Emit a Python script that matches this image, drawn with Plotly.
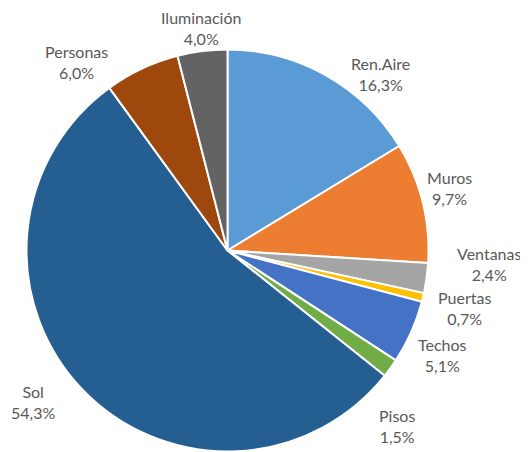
import math
import plotly.graph_objects as go

LABELS = ["Ren.Aire", "Muros", "Ventanas", "Puertas", "Techos", "Pisos",
          "Sol", "Personas", "Iluminación"]
VALUES = [16.3, 9.7, 2.4, 0.7, 5.1, 1.5, 54.3, 6.0, 4.0]
COLORS = ["#5B9BD5", "#ED7D31", "#A5A5A5", "#FFC000", "#4472C4", "#70AD47",
          "#255E91", "#9E480E", "#636363"]

# page body has an 8px margin, so the figure is a bit smaller than the window
W, H = 520, 444
# pie geometry in figure pixels (from top-left)
CX, CY, R = 219.5, 242.5, 201
LABEL_R = 235
# hand nudges (px) so labels land where Excel's "best fit" put them
NUDGE = {
    "Ren.Aire": (38, 28), "Muros": (-6, -6), "Ventanas": (29, -19),
    "Puertas": (8, 3), "Techos": (0, 9), "Pisos": (-21, 38),
    "Sol": (-25, -11), "Personas": (-51, 24), "Iluminación": (3, 11),
}

fig = go.Figure(go.Pie(
    labels=LABELS,
    values=VALUES,
    sort=False,
    direction="clockwise",
    rotation=0,
    marker=dict(colors=COLORS, line=dict(color="white", width=2)),
    textinfo="none",
    hoverinfo="label+percent",
    showlegend=False,
    domain=dict(x=[(CX - R) / W, (CX + R) / W],
                y=[1 - (CY + R) / H, 1 - (CY - R) / H]),
))

total = sum(VALUES)
cum = 0.0
for lab, val in zip(LABELS, VALUES):
    mid = (cum + val / 2) / total * 2 * math.pi
    cum += val
    dx, dy = NUDGE[lab]
    px = CX + LABEL_R * math.sin(mid) + dx
    py = CY - LABEL_R * math.cos(mid) + dy
    pct = f"{val:.1f}".replace(".", ",")
    fig.add_annotation(
        x=px / W, y=1 - py / H, xref="paper", yref="paper",
        text=f"{lab}<br>{pct}%",
        showarrow=False, xanchor="center", yanchor="middle", align="center",
        font=dict(family="Lato", size=16, color="#595959"),
    )

fig.update_layout(
    width=W,
    height=H,
    margin=dict(l=0, r=0, t=0, b=0),
    paper_bgcolor="white",
    plot_bgcolor="white",
)

fig.write_html("out.html")
